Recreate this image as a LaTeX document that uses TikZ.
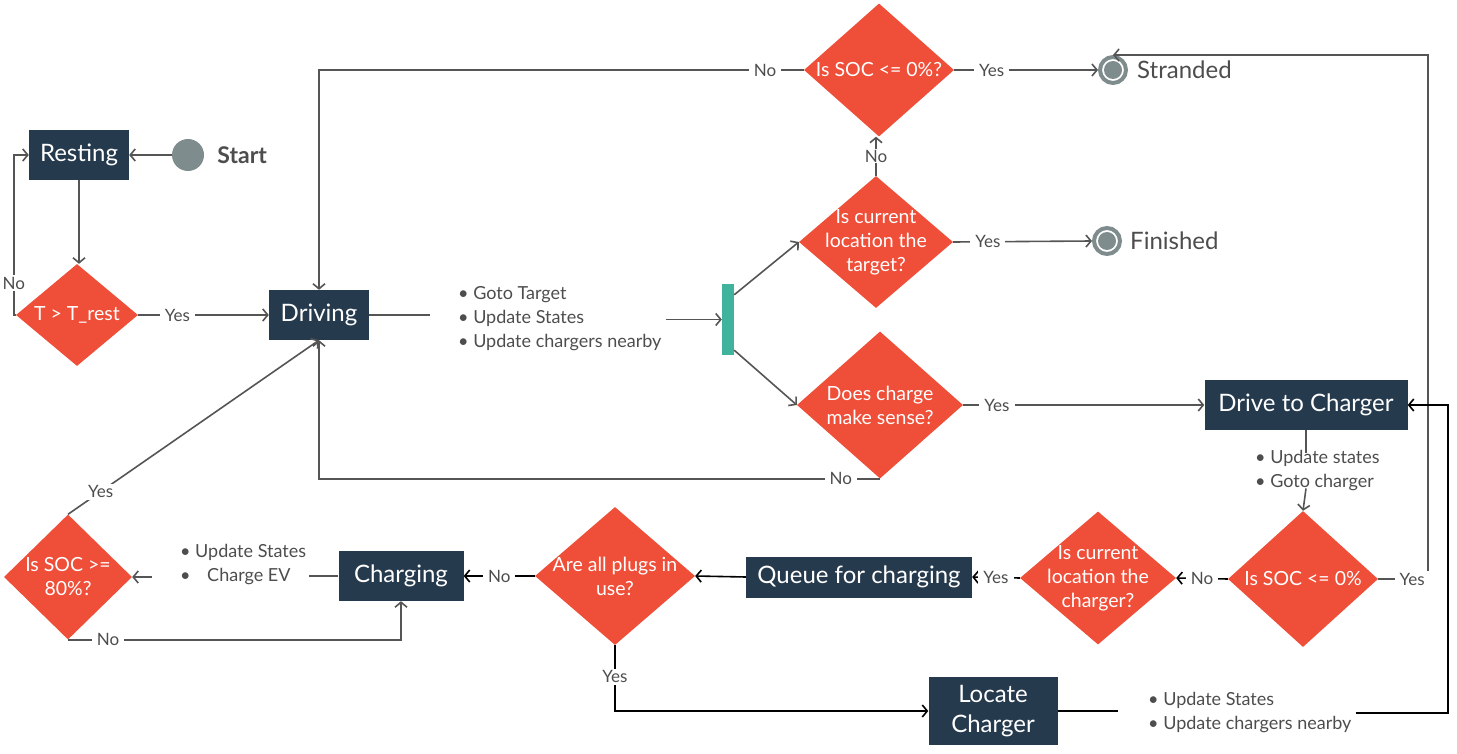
\documentclass[tikz,border=0pt]{standalone}
\usepackage{fontspec}
\setmainfont{Lato}
\usetikzlibrary{shapes.geometric,arrows.meta,positioning}

\definecolor{boxblue}{HTML}{263A4E}
\definecolor{decred}{HTML}{EF4E38}
\definecolor{linegray}{HTML}{555555}
\definecolor{txtgray}{HTML}{4D4D4D}
\definecolor{dotgray}{HTML}{7F8C8D}
\definecolor{barteal}{HTML}{3FB39B}

\tikzset{
	state/.style={fill=boxblue, text=white, font=\fontsize{24}{30}\selectfont, inner sep=0pt, align=center},
	dec/.style={diamond, fill=decred, inner sep=0pt},
	dectext/.style={text=white, font=\fontsize{19.5}{24}\selectfont, align=center, inner sep=0pt},
	lbl/.style={fill=white, text=txtgray, font=\fontsize{17}{20}\selectfont, inner xsep=5pt, inner ysep=2pt},
	note/.style={text=txtgray, font=\fontsize{18}{24}\selectfont, align=left, inner sep=0pt},
	endstate/.style={circle, draw=dotgray, line width=4pt, fill=white, minimum size=26pt, inner sep=0pt,
		path picture={\fill[dotgray] (path picture bounding box.center) circle (9pt);}},
	endtext/.style={text=txtgray, font=\fontsize{24}{28}\selectfont, inner sep=0pt},
	flow/.style={draw=linegray, line width=1.6pt, -{Straight Barb[length=5pt, width=12pt]}},
	link/.style={draw=linegray, line width=1.6pt},
}

\begin{document}
\begin{tikzpicture}[x=1pt, y=-1pt]
	\useasboundingbox (0,0) rectangle (1457,754);

	% states
	\node[state, minimum width=100pt, minimum height=50pt] 	(rest) 		at (79,155) 	{Resting};
	\node[state, minimum width=100pt, minimum height=50pt] 	(drive) 	at (319,315) 	{Driving};
	\node[state, minimum width=203pt, minimum height=50pt] 	(d2c) 		at (1306,405) 	{Drive to Charger};
	\node[state, minimum width=226pt, minimum height=41pt] 	(queue) 	at (859,577) 	{Queue for charging};
	\node[state, minimum width=125pt, minimum height=50pt] 	(charging) 	at (401,576) 	{Charging};
	\node[state, minimum width=129pt, minimum height=68pt] 	(locate) 	at (993,711) 	{Locate\\Charger};

	% start and end points
	\node[circle, fill=dotgray, minimum size=32pt, inner sep=0pt] (start) at (188,155) {};
	\node[right=13pt of start, text=txtgray, font=\bfseries\fontsize{23}{27}\selectfont, inner sep=0pt] (startlbl) {Start};
	\node[endstate] (strand) at (1113,70) {};
	\node[endtext, right=9pt of strand] (strandlbl) {Stranded};
	\node[endstate] (fin) at (1107,241) {};
	\node[endtext, right=8pt of fin] (finlbl) {Finished};

	% fork bar
	\node[fill=barteal, minimum width=12pt, minimum height=71pt, inner sep=0pt] (bar) at (728,319.5) {};

	% decisions
	\node[dec, minimum width=122pt, minimum height=102pt, label={[dectext]center:{T > T\_rest}}] 			(trest) at (77,315) {};
	\node[dec, minimum width=150pt, minimum height=133pt, label={[dectext]center:{Is SOC <= 0\%?}}] 		(soc1) 	at (879,70) {};
	\node[dec, minimum width=154pt, minimum height=132pt, label={[dectext]center:{Is current\\location the\\target?}}] (tgt) at (876,242) {};
	\node[dec, minimum width=166pt, minimum height=147pt, label={[dectext]center:{Does charge\\make sense?}}] 	(chg) 	at (880,405) {};
	\node[dec, minimum width=150pt, minimum height=136pt, label={[dectext]center:{Is SOC <= 0\%}}] 		(socb) 	at (1303,579) {};
	\node[dec, minimum width=156pt, minimum height=133pt, label={[dectext]center:{Is current\\location the\\charger?}}] (cur2) at (1098,578) {};
	\node[dec, minimum width=160pt, minimum height=138pt, label={[dectext]center:{Are all plugs in\\use?}}] 	(plugs) at (615,576) {};
	\node[dec, minimum width=128pt, minimum height=125pt, label={[dectext]center:{Is SOC >=\\80\%?}}] 		(seb) 	at (68,577) {};

	% notes
	\node[note, anchor=west] (drvnote) 	at (458,319) 	{\textbullet\ Goto Target\\\textbullet\ Update States\\\textbullet\ Update chargers nearby};
	\node[note, anchor=west] (d2cnote) 	at (1255,471) 	{\textbullet\ Update states\\\textbullet\ Goto charger};
	\node[note, anchor=west] (chnote) 	at (180,565) 	{\textbullet\ Update States\\\textbullet\ \hspace{12pt}Charge EV};
	\node[note, anchor=west] (locnote) 	at (1148,713) 	{\textbullet\ Update States\\\textbullet\ Update chargers nearby};

	% connectors
	\draw[flow] (start) -- (rest);
	\draw[flow] (rest) -- (rest |- trest.north);
	\draw[flow] (trest.west) -- ++(-2,0) -- node[lbl, pos=0.2] {No} ++(0,-160) -- (rest.west);
	\draw[flow] (trest.east) -- node[lbl, pos=0.3] {Yes} (drive.west);

	\draw[link] (drive.east) -- ([xshift=-28pt]drvnote.west |- drive.east);
	\draw[flow] ([xshift=4pt]drvnote.east |- bar.west) -- (bar.west);
	\draw[flow] ([yshift=-11pt]bar.north east) -- (tgt.west);
	\draw[flow] ([yshift=5pt]bar.south east) -- (chg.west);

	\draw[flow] (soc1.west) -- node[lbl, pos=0.08] {No} (drive.north |- soc1.west) -- (drive.north);
	\draw[flow] (soc1.east) -- node[lbl, pos=0.26] {Yes} (strand.west);
	\draw[flow] (tgt.north) -- node[lbl, inner sep=1pt] {No} (tgt.north |- soc1.south);
	\draw[flow] (tgt.east) -- node[lbl, pos=0.25] {Yes} (fin.west);
	\draw[flow] (chg.east) -- node[lbl, pos=0.14] {Yes} (d2c.west);
	\draw[flow] (chg.south) -- node[lbl, pos=0.07] {No} (drive.south |- chg.south) -- (drive.south);

	\draw[link] (d2c.south) -- ([yshift=-2pt]d2c.south |- d2cnote.north);
	\draw[flow] ([yshift=3pt]d2c.south |- d2cnote.south) -- (socb.north);
	\draw[flow] (socb.east) -- node[lbl, pos=0.68] {Yes} ++(50,0) |- (strand.north);
	\draw[flow, draw=black] (socb.west) -- node[lbl] {No} (cur2.east);
	\draw[flow, draw=black] (cur2.west) -- node[lbl] {Yes} (queue.east);
	\draw[flow, draw=black] (queue.west) -- (plugs.east);
	\draw[flow, draw=black] (plugs.west) -- node[lbl] {No} (charging.east);
	\draw[flow, draw=black] (plugs.south) |- node[lbl, pos=0.24] {Yes} (locate.west);

	\draw[link, draw=black] (locate.east) -- ([xshift=-30pt]locnote.west |- locate.east);
	\draw[flow, draw=black] ([xshift=4pt]locnote.east) -- (1448,713) |- (d2c.east);

	\draw[link] (charging.west) -- ([xshift=3pt]chnote.east |- charging.west);
	\draw[flow] ([xshift=-28pt]chnote.west |- seb.east) -- (seb.east);
	\draw[flow] (seb.south) -- node[lbl, pos=0.12] {No} (charging.south |- seb.south) -- (charging.south);
	\draw[flow] (seb.north) -- node[lbl, pos=0.13] {Yes} (drive.south);
\end{tikzpicture}
\end{document}
